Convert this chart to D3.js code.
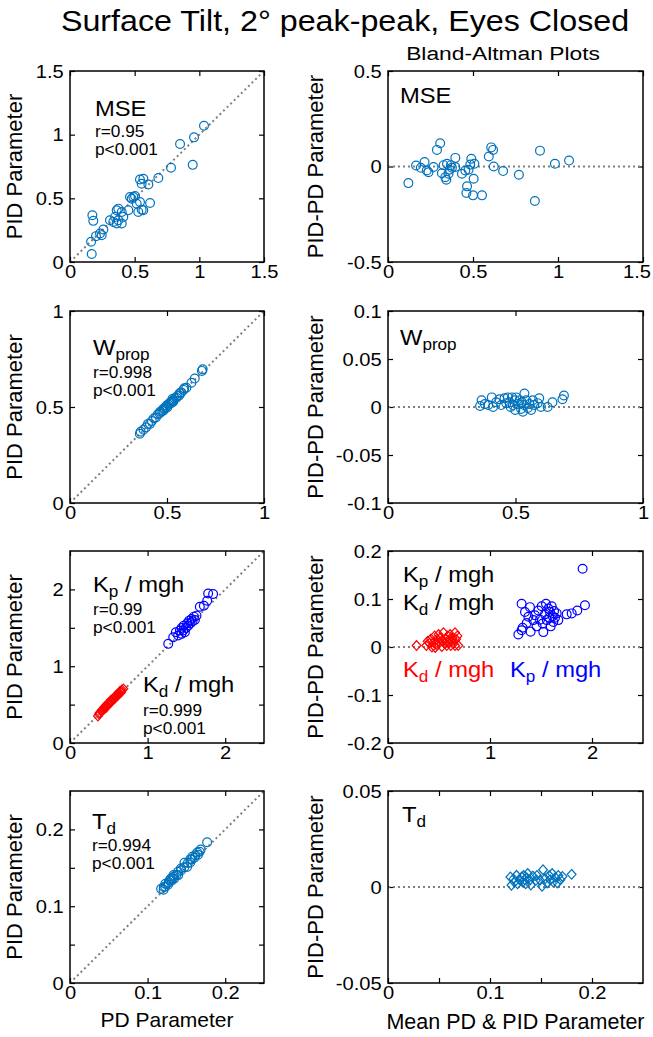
<!DOCTYPE html>
<html><head><meta charset="utf-8">
<script src="https://cdn.jsdelivr.net/npm/d3@7"></script>
<style>
body{margin:0;background:#fff}
svg text{font-family:"Liberation Sans",Arial,Helvetica,sans-serif}
</style>
</head><body>
<svg id="chart" width="653" height="1037"></svg>
<script>
// ---------------- DATA ----------------
const mseParam = "MSE", wpropParam = "W", tdParam = "T";
// Row 1: MSE, PD (x) vs PID (y)
const msePD  = [0.168,0.163,0.201,0.232,0.258,0.173,0.180,0.245,0.309,0.335,0.348,0.361,0.374,0.361,0.374,0.400,0.451,0.464,0.477,0.490,0.503,0.516,0.528,0.541,0.554,0.541,0.567,0.554,0.606,0.619,0.567,0.683,0.781,0.851,0.949,0.959,1.036,0.400,0.412];
const msePID = [0.063,0.159,0.203,0.224,0.255,0.367,0.323,0.211,0.328,0.315,0.354,0.302,0.328,0.406,0.419,0.393,0.406,0.510,0.497,0.510,0.518,0.458,0.393,0.471,0.411,0.648,0.654,0.615,0.609,0.463,0.406,0.659,0.740,0.927,0.763,0.979,1.070,0.302,0.354];
// Row 1: MSE Bland-Altman (mean, PID-PD)
const mseMean = [0.120,0.165,0.193,0.215,0.228,0.238,0.268,0.288,0.307,0.317,0.327,0.337,0.343,0.347,0.356,0.362,0.370,0.376,0.396,0.396,0.435,0.455,0.465,0.461,0.474,0.484,0.490,0.500,0.504,0.508,0.553,0.593,0.607,0.618,0.622,0.677,0.770,0.864,0.894,0.982,1.065];
const mseDiff = [-0.087,0.005,-0.007,0.023,-0.021,-0.030,-0.003,0.087,0.122,-0.035,0.007,-0.056,-0.069,0.014,-0.038,-0.017,0.007,-0.007,0.045,-0.003,-0.038,-0.021,-0.104,-0.139,-0.017,0.010,0.040,-0.151,-0.064,0.014,-0.151,0.052,0.100,0.087,0.000,-0.024,-0.043,-0.181,0.083,0.014,0.031];
// Row 2: W_prop
const wpropPD  = [0.360,0.364,0.379,0.392,0.402,0.412,0.422,0.433,0.443,0.453,0.462,0.465,0.475,0.481,0.481,0.489,0.494,0.501,0.498,0.509,0.513,0.523,0.523,0.532,0.532,0.528,0.539,0.549,0.554,0.563,0.565,0.573,0.585,0.589,0.600,0.626,0.643,0.680,0.684];
const wpropPID = [0.361,0.371,0.382,0.394,0.412,0.412,0.427,0.441,0.445,0.462,0.466,0.475,0.480,0.481,0.491,0.491,0.501,0.498,0.508,0.512,0.520,0.521,0.528,0.527,0.534,0.542,0.546,0.548,0.557,0.560,0.572,0.575,0.589,0.598,0.600,0.626,0.648,0.688,0.696];
const wpropMean = [0.361,0.367,0.380,0.393,0.407,0.412,0.424,0.437,0.444,0.457,0.464,0.470,0.477,0.481,0.486,0.490,0.497,0.499,0.503,0.510,0.516,0.522,0.525,0.529,0.533,0.535,0.542,0.548,0.555,0.561,0.568,0.574,0.587,0.593,0.600,0.626,0.645,0.684,0.690];
const wpropDiff = [0.001,0.007,0.003,0.002,0.010,0.000,0.005,0.008,0.002,0.009,0.004,0.010,0.005,0.000,0.010,0.002,0.007,-0.003,0.010,0.003,0.007,-0.002,0.005,-0.005,0.002,0.014,0.007,-0.001,0.003,-0.003,0.007,0.002,0.004,0.009,0.000,0.000,0.005,0.008,0.012];
// Row 3: Kp/mgh (blue circles) and Kd/mgh (red diamonds)
const kpPD  = [1.266,1.330,1.364,1.394,1.416,1.437,1.459,1.467,1.493,1.510,1.523,1.536,1.553,1.566,1.579,1.596,1.609,1.630,1.437,1.480,1.673,1.725,1.768,1.780,1.844];
const kpPID = [1.291,1.377,1.442,1.399,1.464,1.498,1.464,1.528,1.498,1.559,1.528,1.593,1.559,1.615,1.585,1.645,1.602,1.658,1.421,1.442,1.775,1.788,1.852,1.947,1.940];
const kdPD  = [0.360,0.375,0.383,0.404,0.413,0.431,0.442,0.446,0.471,0.472,0.483,0.501,0.503,0.528,0.531,0.529,0.557,0.562,0.575,0.575,0.588,0.594,0.596,0.614,0.619,0.625,0.638,0.642,0.659,0.669,0.688,0.656,0.464];
const kdPID = [0.350,0.378,0.395,0.412,0.430,0.431,0.452,0.469,0.476,0.488,0.509,0.510,0.522,0.529,0.543,0.559,0.564,0.579,0.578,0.598,0.598,0.610,0.622,0.617,0.631,0.644,0.645,0.672,0.675,0.692,0.705,0.659,0.463];
const kpMean = [1.278,1.310,1.320,1.310,1.343,1.360,1.376,1.392,1.398,1.425,1.441,1.457,1.474,1.490,1.507,1.516,1.523,1.539,1.549,1.556,1.572,1.582,1.588,1.595,1.605,1.615,1.621,1.628,1.637,1.654,1.670,1.752,1.801,1.856,1.931,1.908];
const kpDiff = [0.026,0.035,0.040,0.090,0.073,0.050,0.063,0.083,0.032,0.056,0.066,0.043,0.076,0.057,0.085,0.049,0.031,0.068,0.090,0.056,0.080,0.061,0.073,0.043,0.085,0.064,0.052,0.075,0.061,0.070,0.056,0.068,0.070,0.076,0.087,0.163];
const kdMean = [0.280,0.376,0.389,0.408,0.421,0.431,0.447,0.457,0.473,0.480,0.496,0.505,0.512,0.528,0.537,0.544,0.560,0.570,0.576,0.586,0.593,0.602,0.609,0.615,0.625,0.634,0.641,0.657,0.667,0.680,0.689,0.657,0.463];
const kdDiff = [0.003,0.003,0.012,0.008,0.017,0.000,0.010,0.023,0.005,0.016,0.026,0.009,0.019,0.001,0.012,0.030,0.007,0.017,0.003,0.023,0.010,0.016,0.026,0.003,0.012,0.019,0.007,0.030,0.016,0.023,0.003,0.003,-0.001];
// Row 4: T_d
const tdPD  = [0.1174,0.1206,0.1209,0.1227,0.1229,0.1262,0.1271,0.1284,0.1307,0.1300,0.1321,0.1342,0.1336,0.1335,0.1373,0.1395,0.1392,0.1433,0.1430,0.1473,0.1508,0.1475,0.1519,0.1550,0.1550,0.1571,0.1575,0.1607,0.1615,0.1650,0.1640,0.1671,0.1683,0.1767];
const tdPID = [0.1226,0.1214,0.1251,0.1253,0.1291,0.1279,0.1309,0.1336,0.1333,0.1360,0.1359,0.1359,0.1384,0.1405,0.1408,0.1405,0.1449,0.1468,0.1490,0.1508,0.1512,0.1565,0.1562,0.1570,0.1610,0.1609,0.1645,0.1633,0.1665,0.1670,0.1700,0.1709,0.1738,0.1833];
const tdMean = [0.120,0.121,0.123,0.124,0.126,0.127,0.129,0.131,0.132,0.133,0.134,0.135,0.136,0.137,0.139,0.140,0.142,0.145,0.146,0.149,0.151,0.152,0.154,0.156,0.158,0.159,0.161,0.162,0.164,0.166,0.167,0.169,0.171,0.180];
const tdDiff = [0.0052,0.0009,0.0042,0.0026,0.0061,0.0017,0.0038,0.0052,0.0026,0.0060,0.0038,0.0017,0.0048,0.0070,0.0035,0.0010,0.0057,0.0035,0.0060,0.0035,0.0004,0.0090,0.0043,0.0021,0.0060,0.0038,0.0070,0.0026,0.0050,0.0021,0.0060,0.0038,0.0055,0.0066];

// Axis ticks
const ticks1L = [0,0.5,1,1.5], ticks1RY = [-0.5,0,0.5];
const ticks2L = [0,0.5,1], ticks2RY = [-0.1,-0.05,0,0.05,0.1];
const ticks3X = [0,1,2], ticks3LY = [0,0.5,1,1.5,2], labels3LY = [0,1,2], ticks3RY = [-0.2,-0.1,0,0.1,0.2];
const ticks4LX = [0,0.1,0.2], ticks4LY = [0,0.05,0.1,0.15,0.2], labels4 = [0,0.1,0.2];
const ticks4RX = [0,0.05,0.1,0.15,0.2], ticks4RY = [-0.05,0,0.05];

// ---------------- DRAWING ----------------
const BLUE = "#0072BD", PBLUE = "#0000FF", PRED = "#FF0000", GRAY = "#808080";
const TICKFS = 17.5, TICKSX = 1.15, TSX = 1.08;
const svg = d3.select("#chart");
const rows = [[71,262],[311,503],[551,743],[791,983]];
const LX = [70,264], RX = [388,643];

function fmt(v){ return String(+v.toFixed(4)); }

function panel(cfg){
  const [x0,x1] = cfg.xr, [y0,y1] = cfg.yr;
  const x = d3.scaleLinear().domain(cfg.xd).range([x0,x1]);
  const y = d3.scaleLinear().domain(cfg.yd).range([y1,y0]);
  const g = svg.append("g");
  const xlab = cfg.xlab || cfg.xt, ylab = cfg.ylab || cfg.yt;
  const style = s => { s.select(".domain").remove(); s.selectAll("line").attr("stroke","#000").attr("stroke-width",1.2); };
  g.append("g").attr("transform",`translate(0,${y0})`).call(d3.axisTop(x).tickValues(cfg.xt).tickSize(-5).tickFormat("")).call(style);
  g.append("g").attr("transform",`translate(${x1},0)`).call(d3.axisRight(y).tickValues(cfg.yt).tickSize(-5).tickFormat("")).call(style);
  const bx = g.append("g").attr("transform",`translate(0,${y1})`).call(d3.axisBottom(x).tickValues(cfg.xt).tickSize(-5).tickFormat(v=>xlab.includes(v)?fmt(v):"")).call(style);
  bx.selectAll("text").attr("y",4).attr("dy","0.71em").attr("transform",`scale(${TICKSX},1)`);
  const ly = g.append("g").attr("transform",`translate(${x0},0)`).call(d3.axisLeft(y).tickValues(cfg.yt).tickSize(-5).tickFormat(v=>ylab.includes(v)?fmt(v):"")).call(style);
  ly.selectAll("text").attr("x",-5.5).attr("dy","0.36em").attr("transform",`scale(${TICKSX},1)`);
  g.selectAll(".tick text").attr("font-family",null).attr("font-size",null).attr("fill",null).style("fill","#000").style("font-size",TICKFS+"px");
  // keep right-most labels inside the picture
  bx.selectAll(".tick text").each(function(){
    const bb = this.getBoundingClientRect();
    if(bb.right > 651){ d3.select(this).attr("text-anchor","end").attr("x",(651-bb.right+bb.width/2)/TICKSX); }
  });
  const refLine = g.append("line").attr("stroke",GRAY).attr("stroke-width",2).attr("stroke-dasharray","2,3");
  if(cfg.identity){
    refLine.attr("x1",x(cfg.xd[0])).attr("y1",y(cfg.yd[0])).attr("x2",x(cfg.xd[1])).attr("y2",y(cfg.yd[1]));
  } else {
    refLine.attr("x1",x(cfg.xd[0])).attr("y1",y(0)).attr("x2",x(cfg.xd[1])).attr("y2",y(0));
  }
  cfg.series.forEach(s=>{
    const pts = s.x.map((v,i)=>[v,s.y[i]]);
    if(s.shape==="circle"){
      g.append("g").selectAll("circle").data(pts).join("circle")
        .attr("cx",d=>x(d[0])).attr("cy",d=>y(d[1])).attr("r",4.4)
        .attr("fill","none").attr("stroke",s.color).attr("stroke-width",1.2);
    } else {
      g.append("g").selectAll("path").data(pts).join("path")
        .attr("transform",d=>`translate(${x(d[0])},${y(d[1])})`)
        .attr("d","M0,-4.8L4.4,0L0,4.8L-4.4,0Z")
        .attr("fill","none").attr("stroke",s.color).attr("stroke-width",1.2);
    }
  });
  g.append("rect").attr("x",x0).attr("y",y0).attr("width",x1-x0).attr("height",y1-y0)
    .attr("fill","none").attr("stroke","#000").attr("stroke-width",1.5);
  return g;
}

function label(x, y, parts, size, color, sx){
  const t = svg.append("text").attr("transform",`translate(${x},${y}) scale(${sx||TSX},1)`)
    .style("font-size",size+"px").style("fill",color||"#000");
  let sub = false;
  parts.forEach(([s,isSub])=>{
    const sp = t.append("tspan").text(s);
    if(isSub && !sub){ sp.attr("dy",size*0.22).style("font-size",(size*0.72)+"px"); }
    if(!isSub && sub){ sp.attr("dy",-size*0.22); }
    sub = isSub;
  });
  return t;
}

const tsz = 22, ssz = 16;

// Row 1
panel({xr:LX, yr:rows[0], xd:[0,1.5], yd:[0,1.5], xt:ticks1L, yt:ticks1L, identity:true,
  series:[{x:msePD,y:msePID,shape:"circle",color:BLUE}]});
panel({xr:RX, yr:rows[0], xd:[0,1.5], yd:[-0.5,0.5], xt:ticks1L, yt:ticks1RY,
  series:[{x:mseMean,y:mseDiff,shape:"circle",color:BLUE}]});
label(95,116,[[mseParam,false]],tsz);
label(95,136.5,[["r=0.95",false]],ssz);
label(95,154.5,[["p<0.001",false]],ssz);
label(400,103,[[mseParam,false]],tsz);

// Row 2
panel({xr:LX, yr:rows[1], xd:[0,1], yd:[0,1], xt:ticks2L, yt:ticks2L, identity:true,
  series:[{x:wpropPD,y:wpropPID,shape:"circle",color:BLUE}]});
panel({xr:RX, yr:rows[1], xd:[0,1], yd:[-0.1,0.1], xt:ticks2L, yt:ticks2RY,
  series:[{x:wpropMean,y:wpropDiff,shape:"circle",color:BLUE}]});
label(93,355,[[wpropParam,false],["prop",true]],tsz);
label(93,378,[["r=0.998",false]],ssz);
label(93,396,[["p<0.001",false]],ssz);
label(400,345,[[wpropParam,false],["prop",true]],tsz);

// Row 3
panel({xr:LX, yr:rows[2], xd:[0,2.5], yd:[0,2.5], xt:ticks3X, yt:ticks3LY, ylab:labels3LY, identity:true,
  series:[{x:kdPD,y:kdPID,shape:"diamond",color:PRED},{x:kpPD,y:kpPID,shape:"circle",color:PBLUE}]});
panel({xr:RX, yr:rows[2], xd:[0,2.5], yd:[-0.2,0.2], xt:ticks3X, yt:ticks3RY,
  series:[{x:kdMean,y:kdDiff,shape:"diamond",color:PRED},{x:kpMean,y:kpDiff,shape:"circle",color:PBLUE}]});
label(93,592,[["K",false],["p",true],[" / mgh",false]],tsz);
label(93,615,[["r=0.99",false]],ssz);
label(93,633,[["p<0.001",false]],ssz);
label(143,692,[["K",false],["d",true],[" / mgh",false]],tsz);
label(143,715.5,[["r=0.999",false]],ssz);
label(143,733.5,[["p<0.001",false]],ssz);
label(403,582,[["K",false],["p",true],[" / mgh",false]],tsz);
label(403,610,[["K",false],["d",true],[" / mgh",false]],tsz);
label(403,677,[["K",false],["d",true],[" / mgh",false]],tsz,PRED);
label(510,677,[["K",false],["p",true],[" / mgh",false]],tsz,PBLUE);

// Row 4
panel({xr:LX, yr:rows[3], xd:[0,0.25], yd:[0,0.25], xt:ticks4LX, yt:ticks4LY, ylab:labels4, identity:true,
  series:[{x:tdPD,y:tdPID,shape:"circle",color:BLUE}]});
panel({xr:RX, yr:rows[3], xd:[0,0.25], yd:[-0.05,0.05], xt:ticks4RX, xlab:labels4, yt:ticks4RY,
  series:[{x:tdMean,y:tdDiff,shape:"diamond",color:BLUE}]});
label(92,829,[[tdParam,false],["d",true]],tsz);
label(92,851,[["r=0.994",false]],ssz);
label(92,869,[["p<0.001",false]],ssz);
label(402,822,[[tdParam,false],["d",true]],tsz);

// Axis titles
const AXFS = 22;
rows.forEach(([a,b])=>{
  svg.append("text").attr("transform",`translate(22,${(a+b)/2}) rotate(-90)`).attr("text-anchor","middle")
    .style("font-size",AXFS+"px").style("fill","#000").text("PID Parameter");
  svg.append("text").attr("transform",`translate(323,${(a+b)/2}) rotate(-90)`).attr("text-anchor","middle")
    .style("font-size",AXFS+"px").style("fill","#000").text("PID-PD Parameter");
});
svg.append("text").attr("x",(LX[0]+LX[1])/2).attr("y",1027).attr("text-anchor","middle").style("font-size","21px").style("fill","#000").text("PD Parameter");
svg.append("text").attr("x",(RX[0]+RX[1])/2).attr("y",1029).attr("text-anchor","middle").style("font-size","21.5px").style("fill","#000").text("Mean PD & PID Parameter");

// Titles
label(345,31,[["Surface Tilt, 2° peak-peak, Eyes Closed",false]],30,"#000",1.075).attr("text-anchor","middle");
label(503,60,[["Bland-Altman Plots",false]],19,"#000",1.2).attr("text-anchor","middle");
</script>
</body></html>
